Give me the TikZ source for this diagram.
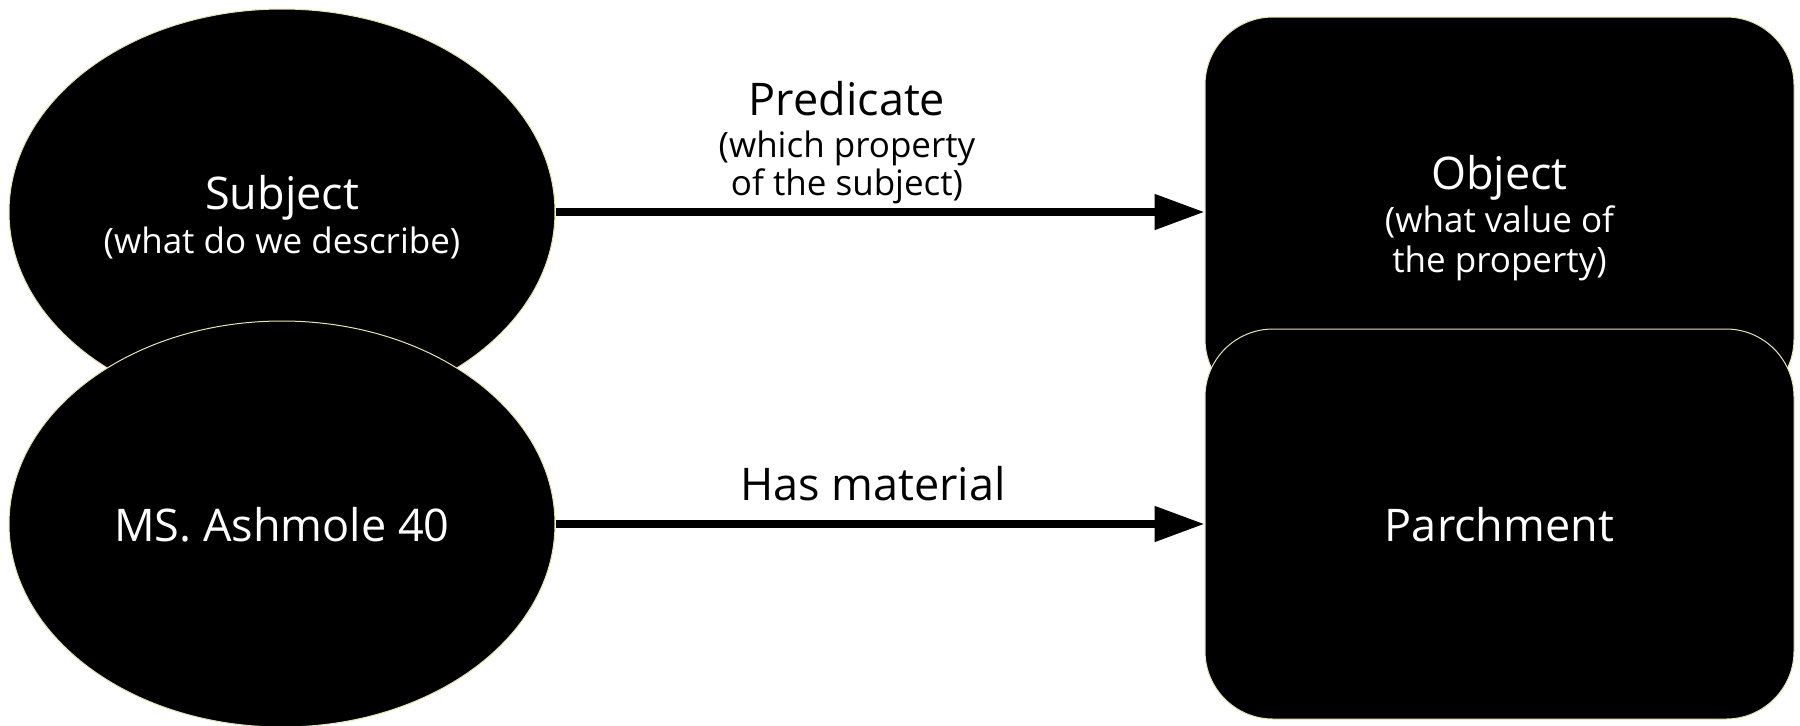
\documentclass[tikz,border=0pt]{standalone}
\usepackage{fontspec}
\setmainfont{Open Sans}
\usetikzlibrary{arrows.meta}
\usetikzlibrary{shapes.geometric}
\definecolor{rim}{RGB}{232,228,176}
\newcommand{\mainsize}{\fontsize{22.5pt}{27pt}\selectfont}
\newcommand{\notesize}{\fontsize{17.5pt}{21pt}\selectfont}

\begin{document}
\begin{tikzpicture}[x=0.5pt,y=-0.5pt]
		\tikzset{thing/.style = {shape=ellipse,fill=black,draw=rim,line width=0.5pt,text=white,
				minimum width=273pt,minimum height=203pt,inner sep=0pt,align=center,font=\mainsize}}
		\tikzset{value/.style = {shape=rectangle,rounded corners=34pt,fill=black,draw=rim,line width=0.5pt,
				text=white,minimum width=294.5pt,minimum height=195pt,inner sep=0pt,align=center,font=\mainsize}}
		\tikzset{link/.style = {line width=4pt,-{Triangle[length=25pt,width=17pt]}}}
		\tikzset{verb/.style = {align=center,font=\mainsize,inner sep=0pt}}
		\useasboundingbox (0,0) rectangle (1800,725);
			% the pattern
			\node[thing] (subj) at (282,212) {\rule{0pt}{22.4pt}Subject\\[-4.8pt]{\notesize (what do we describe)}};
			\node[value] (obj) at (1499.5,212) {\rule{0pt}{23.2pt}Object\\[-5.2pt]{\notesize (what value of}\\[-7.1pt]{\notesize the property)}};
			\node[verb] (pred) at (847,142.7) {Predicate\\[-6pt]{\notesize (which property}\\[-7.8pt]{\notesize of the subject)}};
			% the example
			\node[thing] (ms) at (282,524) {\rule{0pt}{18pt}MS. Ashmole 40};
			\node[value] (parch) at (1499.5,524) {\rule{0pt}{17.4pt}Parchment};
			\node[verb,anchor=base] (has) at (873,500) {Has material};
			\draw[link] (subj.east) -- (obj.west);
			\draw[link] (ms.east) -- (parch.west);
		\end{tikzpicture}
\end{document}
